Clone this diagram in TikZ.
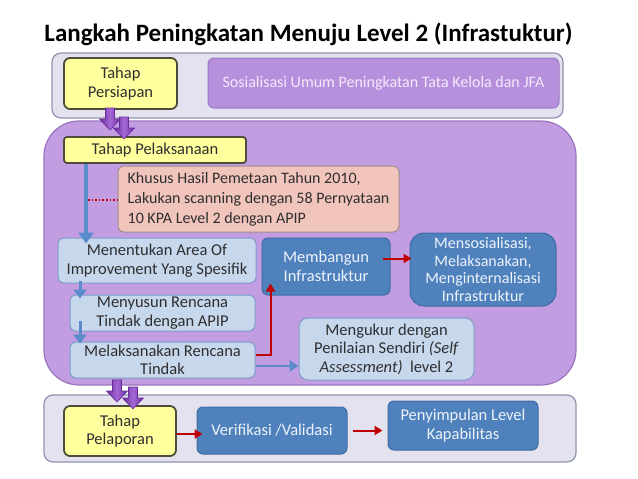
\documentclass[tikz,border=0pt]{standalone}
\usepackage{fontspec}
\setmainfont{Carlito}
\usetikzlibrary{arrows.meta,calc}
\definecolor{panelgray}{HTML}{E4E2EE}
\definecolor{panelgrayb}{HTML}{8C94AE}
\definecolor{bigpurple}{HTML}{C39DE2}
\definecolor{bigpurpleb}{HTML}{9A74C0}
\definecolor{sosfill}{HTML}{B690DD}
\definecolor{sosborder}{HTML}{9B7AC7}
\definecolor{sostext}{HTML}{F3EAFB}
\definecolor{yel}{HTML}{FFFF9E}
\definecolor{yelb}{HTML}{4D4D3A}
\definecolor{lblue}{HTML}{C7D7EC}
\definecolor{lblueb}{HTML}{7E9CC7}
\definecolor{dblue}{HTML}{4F81BD}
\definecolor{dblueb}{HTML}{3D6BA3}
\definecolor{dbluetext}{HTML}{EEF3FA}
\definecolor{pinkf}{HTML}{F2C5BC}
\definecolor{pinkb}{HTML}{9C8E8E}
\definecolor{redar}{HTML}{C00000}
\definecolor{bluear}{HTML}{5A8CCB}
\definecolor{parrowc}{HTML}{6A2C9A}
\definecolor{parrowl}{HTML}{A566D6}
\definecolor{txt}{HTML}{2F2F2F}
\tikzset{
  base/.style={rounded corners=6, align=center, inner sep=0, font=\fontsize{16.5}{18.5}\selectfont, text=txt},
  panel/.style={draw=panelgrayb, fill=panelgray, line width=1.2, rounded corners=9, inner sep=0},
  bigpanel/.style={draw=bigpurpleb, fill=bigpurple, line width=1.2, rounded corners=35, inner sep=0},
  ybox/.style={base, draw=yelb, fill=yel, line width=1.8},
  lbox/.style={base, draw=lblueb, fill=lblue, line width=1},
  dbox/.style={base, draw=dblueb, fill=dblue, line width=1, text=dbluetext},
  sbox/.style={base, draw=sosborder, fill=sosfill, line width=1, text=sostext},
  pbox/.style={base, draw=pinkb, fill=pinkf, line width=1, align=left},
  redarrow/.style={draw=redar, line width=2, -{Triangle[length=8,width=9]}},
  bluearrow/.style={draw=bluear, line width=4, -{Triangle[length=11,width=15]}},
  smallblue/.style={draw=bluear, line width=3, -{Triangle[length=9,width=13]}},
  mengarrow/.style={draw=bluear, line width=2.5, -{Triangle[length=9,width=11]}},
  parrow/.pic={\path[draw=parrowc, line width=0.6, left color=parrowc, right color=parrowc, middle color=parrowl]
     (-4.5,0) -- (4.5,0) -- (4.5,11) -- (10.5,11) -- (0,22) -- (-10.5,11) -- (-4.5,11) -- cycle;}
}
\begin{document}
\begin{tikzpicture}[x=1pt,y=-1pt]
\useasboundingbox (0,0) rectangle (638,479);
\fill[white] (0,0) rectangle (638,479);
\node[font=\fontsize{25}{29}\selectfont\bfseries, text=black] (title) at (308.5,34) {Langkah Peningkatan Menuju Level 2 (Infrastuktur)};
% panels
\node[panel, minimum width=511, minimum height=65] (toppanel) at (307.5,85.5) {};
\node[bigpanel, minimum width=532, minimum height=264] (bigpanel) at (310,253) {};
\node[panel, minimum width=532, minimum height=67] (botpanel) at (310,428.5) {};
% top
\node[ybox, minimum width=113, minimum height=51] (persiapan) at (120.5,83.5) {Tahap\\Persiapan};
\node[sbox, minimum width=351, minimum height=50, font=\fontsize{16}{18}\selectfont] (sos) at (383.5,83) {Sosialisasi Umum Peningkatan Tata Kelola dan JFA};
% middle
\node[ybox, minimum width=182, minimum height=26, rounded corners=3] (pelaksanaan) at (155,150) {Tahap Pelaksanaan};
\node[pbox, minimum width=281, minimum height=66, font=\fontsize{16}{20}\selectfont] (khusus) at (258.5,199) {Khusus Hasil Pemetaan Tahun 2010,\\Lakukan scanning dengan 58 Pernyataan\\10 KPA Level 2 dengan APIP};
\node[lbox, minimum width=198, minimum height=45] (menentukan) at (157,260.5) {Menentukan Area Of\\Improvement Yang Spesifik};
\node[lbox, minimum width=185, minimum height=36] (menyusun) at (162.5,313) {Menyusun Rencana\\Tindak dengan APIP};
\node[lbox, minimum width=185, minimum height=36] (melaksanakan) at (162.5,360) {Melaksanakan Rencana\\Tindak};
\node[dbox, minimum width=128, minimum height=57] (membangun) at (326,266.5) {Membangun\\Infrastruktur};
\node[dbox, minimum width=146, minimum height=73, rounded corners=14, font=\fontsize{16}{17.5}\selectfont] (mensos) at (483,269.5) {Mensosialisasi,\\Melaksanakan,\\Menginternalisasi\\Infrastruktur};
\node[lbox, minimum width=175, minimum height=62, rounded corners=9] (mengukur) at (386.5,349) {Mengukur dengan\\Penilaian Sendiri \textit{(Self}\\\textit{Assessment)}\ \ level 2};
% bottom
\node[ybox, minimum width=112, minimum height=50] (pelaporan) at (120,431) {Tahap\\Pelaporan};
\node[dbox, minimum width=150, minimum height=47] (verifikasi) at (272,430.5) {Verifikasi /Validasi};
\node[dbox, minimum width=150, minimum height=49] (penyimpulan) at (463,425.5) {Penyimpulan Level\\Kapabilitas};
% connectors
\coordinate (c86) at (86,0);
\coordinate (c80) at (80,0);
\draw[bluearrow] (pelaksanaan.south -| c86) -- ($(menentukan.north -| c86)+(0,6)$);
\draw[redar, line width=1.6, dotted] ($(khusus.west -| c86)+(2,1)$) -- ($(khusus.west)+(0,1)$);
\draw[smallblue] ($(menentukan.south -| c80)+(0,-3)$) -- ($(menyusun.north -| c80)+(0,4)$);
\draw[smallblue] ($(menyusun.south -| c80)+(0,-11)$) -- ($(melaksanakan.north -| c80)+(0,2)$);
\draw[redarrow] ($(melaksanakan.east)+(0,-5)$) -| ($(membangun.south west)+(9,-12)$);
\draw[mengarrow] ($(melaksanakan.east)+(0,6)$) -- ($(melaksanakan.east -| mengukur.west)+(0,6)$);
\draw[redarrow] ($(membangun.east)+(-8,-8)$) -- ($(mensos.west |- membangun.east)+(2,-8)$);
\draw[redarrow] ($(pelaporan.east)+(0,3)$) -- ($(verifikasi.west |- pelaporan.east)+(6,3)$);
\draw[redarrow] ($(verifikasi.east)+(5,0)$) -- ($(verifikasi.east -| penyimpulan.west)+(-5,0)$);
% purple block arrows
\pic at (110,108) {parrow};
\pic at (124,117) {parrow};
\pic at (117,380) {parrow};
\pic at (133,387) {parrow};
\end{tikzpicture}
\end{document}
